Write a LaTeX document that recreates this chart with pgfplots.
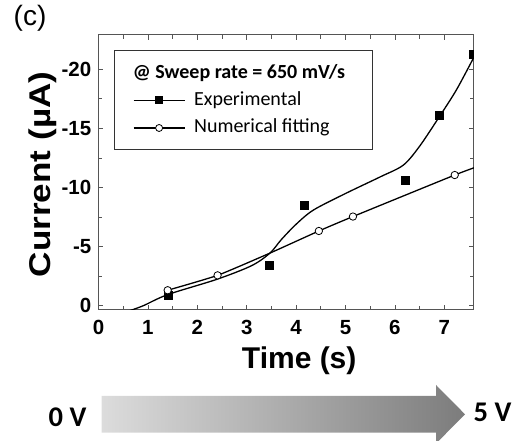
\documentclass[border=0pt]{standalone}
\usepackage{fontspec}
\setmainfont{Liberation Sans}
\newfontfamily\carlito{Carlito}
\usepackage{pgfplots}
\pgfplotsset{compat=1.18}
\definecolor{arrowL}{HTML}{DCDCDC}
\definecolor{arrowR}{HTML}{7C7C7C}
\definecolor{frame}{HTML}{555555}

\begin{document}
\begin{tikzpicture}[x=1pt,y=1pt]
% gradient arrow
\shade[left color=arrowL, right color=arrowR]
  (101.7,8.3) -- (436,8.3) -- (436,-2.6) -- (465,26.7) -- (436,56) -- (436,45) -- (101.7,45) -- cycle;
\node[anchor=base, inner sep=0pt, font=\carlito\bfseries\fontsize{28.5}{30}\selectfont] at (67.5,14.3) {0 V};
\node[anchor=base, inner sep=0pt, font=\carlito\bfseries\fontsize{28.5}{30}\selectfont] at (492.5,19.5) {5 V};
\node[anchor=base, inner sep=0pt, font=\fontsize{28}{30}\selectfont] at (30,415) {(c)};

\begin{axis}[
  at={(98.5pt,131pt)}, anchor=south west,
  scale only axis, width=375.5pt, height=275pt,
  xmin=0, xmax=7.6, ymin=-0.35, ymax=22.9,
  xtick={0,1,2,3,4,5,6,7}, xticklabels={0,1,2,3,4,5,6,7},
  ytick={0,5,10,15,20}, yticklabels={0,-5,-10,-15,-20},
  minor x tick num=1, minor y tick num=1,
  tick align=inside,
  xtick pos=both, ytick pos=both,
  major tick length=5pt, minor tick length=4pt,
  every tick/.style={frame, line width=0.8pt},
  axis line style={frame, line width=1pt},
  ticklabel style={font=\bfseries\fontsize{20.5}{21}\selectfont},
  yticklabel style={inner ysep=0pt, inner xsep=7pt, anchor=east},
  xticklabel style={inner xsep=0pt, inner ysep=10pt, anchor=north},
  xlabel={Time (s)},
  xlabel style={at={(axis description cs:0.5345,-0.212)}, anchor=base, inner sep=0pt, font=\bfseries\fontsize{30}{32}\selectfont},
  ylabel={Current (µA)},
  ylabel style={at={(axis description cs:-0.129,0.493)}, anchor=base, inner sep=0pt, xscale=1.17, font=\bfseries\fontsize{30}{32}\selectfont},
  clip mode=individual, clip marker paths=true,
  legend cell align=left,
  legend image code/.code={\draw[mark repeat=2,mark phase=2,#1] plot coordinates {(0pt,0pt) (25.6pt,0pt) (51.3pt,0pt)};},
  legend style={draw=none, fill=none, inner sep=0pt,
    at={(axis description cs:0.0911,0.796)}, anchor=north west,
    font=\carlito\fontsize{20}{20}\selectfont,
    row sep=9.7pt, column sep=8.7pt,
    nodes={inner sep=0pt, text height=14pt, text depth=4pt}},
]
\addlegendimage{black, line width=1.2pt, mark=square*, mark size=3.2pt}
\addlegendentry{Experimental}
\addlegendimage{black, line width=1.2pt, mark=*, mark size=3.5pt, mark options={fill=white, line width=0.8pt}}
\addlegendentry{Numerical fitting}

% experimental smooth curve
\addplot[black, line width=1.3pt, smooth, tension=0.5, forget plot] coordinates {
  (0.6,-0.45) (0.9,0.0) (1.4,0.95) (2.4,2.25) (3.1,3.4) (3.47,4.46) (3.7,5.6)
  (4.0,6.9) (4.35,8.1) (5.0,9.5) (5.7,10.9) (6.17,11.9) (6.5,13.5) (6.9,16.0)
  (7.25,18.3) (7.62,21.2)
};
% fitting line
\addplot[black, line width=1.3pt, smooth, tension=0.3, forget plot] coordinates {
  (1.40,1.32) (2.41,2.58) (3.47,4.46) (4.46,6.33) (5.15,7.55) (7.21,11.06) (7.62,11.7)
};
% experimental points
\addplot[only marks, mark=square*, mark size=4pt, black, forget plot] coordinates {
  (0.70,-0.65) (1.41,0.93) (3.45,3.41) (4.16,8.5) (6.2,10.66) (6.9,16.08) (7.58,21.25)
};
% fitting points
\addplot[only marks, mark=*, mark size=3.7pt, mark options={fill=white, draw=black, line width=0.8pt}, forget plot] coordinates {
  (1.40,1.32) (2.41,2.58) (4.46,6.33) (5.15,7.55) (7.21,11.06)
};
\end{axis}

% legend frame and title
\draw[black!80, line width=0.8pt] (114,292) rectangle (372.7,390.3);
\node[anchor=base west, inner sep=0pt, font=\carlito\bfseries\fontsize{20}{20}\selectfont] at (132.7,362.9) {@ Sweep rate = 650 mV/s};

\pgfresetboundingbox
\path[use as bounding box] (0,0) rectangle (525,441);
\end{tikzpicture}
\end{document}
